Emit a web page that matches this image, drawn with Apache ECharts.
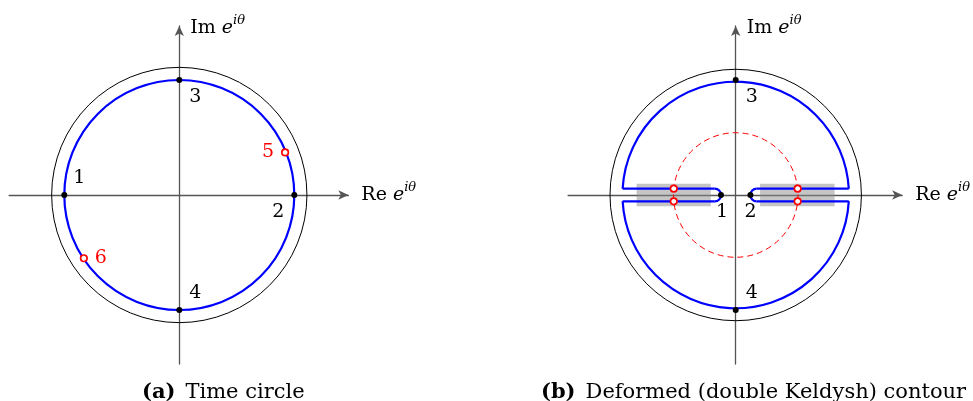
<!DOCTYPE html>
<html><head><meta charset="utf-8">
<script src="https://cdn.jsdelivr.net/npm/echarts@6/dist/echarts.min.js"></script>
<style>html,body{margin:0;padding:0;background:#fff}#c{width:973px;height:401px}</style>
</head><body><div id="c"></div>
<script>
// ---------- data (unit = radius of the time contour) ----------
const outerRadius = 1.11;          // black reference circle
const contourRadius = 1.0;         // blue time contour
const pinchRadius = 0.55;          // red dashed circle (panel b)
const slotHalfWidth = 0.055;       // half gap of each keyhole slot
const slotTipCentre = 0.185;       // centre of the hairpin turn
const bandStartX = [-0.875, 0.215];
const bandEndX = [-0.22, 0.873];
const bandHalfHeight = 0.097;

const markedLabelsA = ['1', '2', '3', '4'];
const markedXA = [-1, 1, 0, 0];
const markedYA = [0, 0, 1, -1];
const redLabelsA = ['5', '6'];
const redXA = [0.92, -0.83];
const redYA = [0.37, -0.55];

const markedLabelsB = ['1', '2', '3', '4'];
const markedXB = [-0.13, 0.13, 0, 0];
const markedYB = [0, 0, 1, -1];
const redXB = [-0.547, -0.547, 0.547, 0.547];
const redYB = [0.055, -0.055, 0.055, -0.055];

const axisRangeX = [-1.48, 1.47];
const axisRangeY = [-1.47, 1.47];
const captionTags = ['(a)', '(b)'];
const captionTexts = ['Time circle', 'Deformed (double Keldysh) contour'];

// ---------- styling / layout ----------
const FONT = 'DejaVu Serif';
const PX = 115;                      // pixels per unit
const centresX = [179.3, 738.3];
const centreY = 195;
const BLUE = '#0000ff', RED = '#ff0000';
const offsetsA = [[15, -17], [-16, 17], [16, 17], [16, -17]];
const redOffsetsA = [[-17, 0], [17, 0]];
const offsetsB = [[1, 17], [0, 17], [16, 17], [16, -17]];

const grids = centresX.map(cx => ({
  left: cx + axisRangeX[0] * PX,
  top: centreY - axisRangeY[1] * PX,
  width: (axisRangeX[1] - axisRangeX[0]) * PX,
  height: (axisRangeY[1] - axisRangeY[0]) * PX
}));

const richName = {
  r: { fontFamily: FONT, fontSize: 19, color: '#000', lineHeight: 28 },
  e: { fontFamily: FONT, fontSize: 19, fontStyle: 'italic', color: '#000', lineHeight: 28 },
  s: { fontFamily: FONT, fontSize: 13, fontStyle: 'italic', color: '#000', lineHeight: 15, verticalAlign: 'top' }
};
const axisLine = { onZero: true, lineStyle: { color: '#555', width: 1.3 }, symbol: ['none', 'arrow'], symbolSize: [7, 10] };

const xAxes = grids.map((g, i) => ({
  type: 'value', gridIndex: i, min: axisRangeX[0], max: axisRangeX[1],
  axisLine, axisTick: { show: false }, axisLabel: { show: false }, splitLine: { show: false },
  name: '{r|Re }{e|e}{s|iθ}', nameLocation: 'end', nameGap: 13,
  nameTextStyle: { rich: richName, align: 'left', verticalAlign: 'middle' }
}));
const yAxes = grids.map((g, i) => ({
  type: 'value', gridIndex: i, min: axisRangeY[0], max: axisRangeY[1],
  axisLine, axisTick: { show: false }, axisLabel: { show: false }, splitLine: { show: false },
  name: '{r|Im }{e|e}{s|iθ}', nameLocation: 'end', nameGap: -2,
  nameTextStyle: { rich: richName, align: 'left', verticalAlign: 'middle', padding: [0, 0, 0, 11] }
}));

function circleSeries(gi, radius, style, z) {
  return {
    type: 'custom', coordinateSystem: 'cartesian2d', xAxisIndex: gi, yAxisIndex: gi, z, silent: true,
    data: [[0, 0, radius]],
    renderItem(params, api) {
      const c = api.coord([api.value(0), api.value(1)]);
      const r = api.size([api.value(2), 0])[0];
      return { type: 'circle', shape: { cx: c[0], cy: c[1], r }, style: Object.assign({ fill: 'none' }, style) };
    }
  };
}

const bandSeries = {
  type: 'custom', coordinateSystem: 'cartesian2d', xAxisIndex: 1, yAxisIndex: 1, z: 1, silent: true,
  data: bandStartX.map((x, i) => [x, bandEndX[i]]),
  renderItem(params, api) {
    const p1 = api.coord([api.value(0), bandHalfHeight]);
    const p2 = api.coord([api.value(1), -bandHalfHeight]);
    return { type: 'rect', shape: { x: p1[0], y: p1[1], width: p2[0] - p1[0], height: p2[1] - p1[1] },
      style: { fill: 'rgba(140,140,140,0.5)' } };
  }
};

const keyholeSeries = {
  type: 'custom', coordinateSystem: 'cartesian2d', xAxisIndex: 1, yAxisIndex: 1, z: 3, silent: true,
  data: [[0, 0]],
  renderItem(params, api) {
    const R = contourRadius, h = slotHalfWidth, t = slotTipCentre;
    const c = api.coord([0, 0]);
    const rPx = api.size([R, 0])[0];
    const hPx = api.size([0, h])[1];
    const a0 = Math.asin(h / R);
    const xe = R * Math.cos(a0);
    const st = { fill: 'none', stroke: BLUE, lineWidth: 2.2 };
    const ch = [
      { type: 'arc', shape: { cx: c[0], cy: c[1], r: rPx, startAngle: a0 - Math.PI, endAngle: -a0, clockwise: true }, style: st },
      { type: 'arc', shape: { cx: c[0], cy: c[1], r: rPx, startAngle: a0, endAngle: Math.PI - a0, clockwise: true }, style: st }
    ];
    [1, -1].forEach(s => {
      [h, -h].forEach(y => {
        const p1 = api.coord([s * t, y]), p2 = api.coord([s * xe, y]);
        ch.push({ type: 'line', shape: { x1: p1[0], y1: p1[1], x2: p2[0], y2: p2[1] }, style: st });
      });
      const tc = api.coord([s * t, 0]);
      ch.push({ type: 'arc', shape: { cx: tc[0], cy: tc[1], r: hPx,
        startAngle: s > 0 ? Math.PI / 2 : -Math.PI / 2, endAngle: s > 0 ? 3 * Math.PI / 2 : Math.PI / 2, clockwise: true }, style: st });
    });
    return { type: 'group', children: ch };
  }
};

function pointSeries(gi, xs, ys, labels, offsets, red) {
  return {
    type: 'scatter', xAxisIndex: gi, yAxisIndex: gi, z: 5, silent: true,
    symbol: 'circle', symbolSize: red ? 6.5 : 6,
    itemStyle: red ? { color: '#fff', borderColor: RED, borderWidth: 1.7, opacity: 1 } : { color: '#000', opacity: 1 },
    label: { show: !!labels, position: 'inside', formatter: p => p.name, fontFamily: FONT, fontSize: 19,
      color: red ? RED : '#000', align: 'center', verticalAlign: 'middle', textBorderWidth: 0 },
    data: xs.map((x, i) => ({ name: labels ? labels[i] : '', value: [x, ys[i]],
      label: { offset: offsets ? offsets[i] : [0, 0] } }))
  };
}

const option = {
  animation: false,
  backgroundColor: '#fff',
  grid: grids,
  xAxis: xAxes,
  yAxis: yAxes,
  title: captionTags.map((tag, i) => ({
    text: '{b|' + tag + '}  {n|' + captionTexts[i] + '}',
    left: [137, 536][i], top: 377,
    textStyle: { fontWeight: 'normal', rich: {
      b: { fontFamily: FONT, fontSize: 21, fontWeight: 'bold', color: '#000' },
      n: { fontFamily: FONT, fontSize: 21, fontWeight: 'normal', color: '#000' } } }
  })),
  series: [
    circleSeries(0, outerRadius, { stroke: '#000', lineWidth: 1 }, 2),
    circleSeries(0, contourRadius, { stroke: BLUE, lineWidth: 2.2 }, 3),
    pointSeries(0, markedXA, markedYA, markedLabelsA, offsetsA, false),
    pointSeries(0, redXA, redYA, redLabelsA, redOffsetsA, true),
    bandSeries,
    circleSeries(1, outerRadius, { stroke: '#000', lineWidth: 1 }, 2),
    circleSeries(1, pinchRadius, { stroke: RED, lineWidth: 1, lineDash: [6, 4] }, 2),
    keyholeSeries,
    pointSeries(1, markedXB, markedYB, markedLabelsB, offsetsB, false),
    pointSeries(1, redXB, redYB, null, null, true)
  ]
};
const chart = echarts.init(document.getElementById('c'), null, { renderer: 'canvas' });
chart.setOption(option);
</script></body></html>
